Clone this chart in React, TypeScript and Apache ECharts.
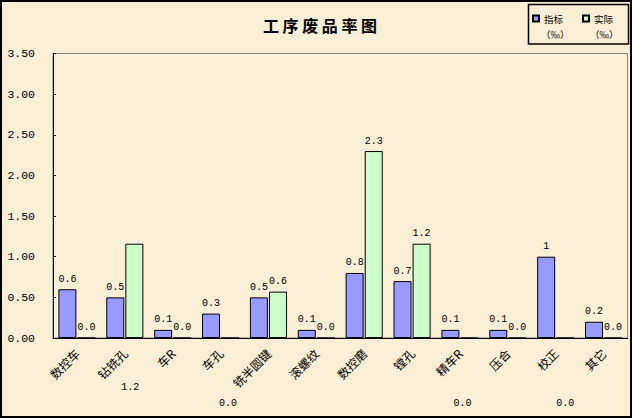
import React, { useEffect, useRef } from "react";
import * as echarts from "echarts";

const categories = ["数控车", "钻铣孔", "车R", "车孔", "铣半圆键", "滚螺纹", "数控磨", "镗孔", "精车R", "压合", "校正", "其它"];
const targetValues = [0.6, 0.5, 0.1, 0.3, 0.5, 0.1, 0.8, 0.7, 0.1, 0.1, 1, 0.2];
const actualValues = [0, 1.16, 0, 0, 0.57, 0, 2.3, 1.16, 0, 0, 0, 0];
const yTicks = { min: 0, max: 3.5, interval: 0.5 };
const seriesNames = ["指标（‰）", "实际（‰）"];

// label displacements seen in the reference (index -> [dx, dy])
const actualLabelShift: Record<number, [number, number]> = {
  1: [-4, 154],
  3: [-2, 76],
  8: [-7, 76],
  10: [0, 76],
};

const numFont = "'Liberation Mono', 'DejaVu Sans Mono', monospace";
const cjkFont = "'Noto Sans CJK SC', sans-serif";

export default function App() {
  const ref = useRef<HTMLDivElement>(null);
  useEffect(() => {
    document.body.style.margin = "0";
    if (!ref.current) return;
    const chart = echarts.init(ref.current, null, { renderer: "svg" });
    const option: any = {
      animation: false,
      backgroundColor: "#f9eed6",
      title: {
        text: "工 序 废 品 率 图",
        left: 315,
        top: 12,
        textAlign: "center",
        textStyle: { fontFamily: cjkFont, fontSize: 16, fontWeight: "bold", color: "#000" },
      },
      legend: {
        left: 532,
        top: 12.5,
        padding: 0,
        itemWidth: 6,
        itemHeight: 6,
        itemGap: 19,
        icon: "rect",
        formatter: (n: string) => n.split("（")[0],
        textStyle: { fontFamily: cjkFont, fontSize: 9.5, lineHeight: 12, color: "#000" },
        data: seriesNames,
      },
      graphic: [
        { type: "rect", shape: { x: 528.5, y: 4.5, width: 100, height: 39.5 }, style: { fill: "none", stroke: "#000", lineWidth: 1.5 }, z: 10 },
        { type: "text", x: 541, y: 33.5, style: { text: "（‰）", font: `9.5px ${cjkFont}`, fill: "#000", verticalAlign: "middle" }, z: 10 },
        { type: "text", x: 590, y: 33.5, style: { text: "（‰）", font: `9.5px ${cjkFont}`, fill: "#000", verticalAlign: "middle" }, z: 10 },
        { type: "rect", shape: { x: 1, y: 1, width: 630, height: 416 }, style: { fill: "none", stroke: "#000", lineWidth: 2 }, z: 20 },
      ],
      grid: {
        left: 53,
        top: 53.5,
        right: 4.5,
        bottom: 80,
        show: true,
        borderColor: "#808080",
        borderWidth: 1,
        backgroundColor: "transparent",
      },
      xAxis: {
        type: "category",
        data: categories,
        axisLine: { lineStyle: { color: "#000", width: 1 } },
        axisTick: { inside: true, length: 3, lineStyle: { color: "#000" } },
        axisLabel: {
          rotate: 45,
          margin: 13,
          interval: 0,
          fontFamily: cjkFont,
          fontSize: 12,
          color: "#000",
        },
      },
      yAxis: {
        type: "value",
        min: yTicks.min,
        max: yTicks.max,
        interval: yTicks.interval,
        axisLine: { show: true, lineStyle: { color: "#000", width: 1 } },
        axisTick: { show: true, inside: true, length: 3, lineStyle: { color: "#000" } },
        splitLine: { show: false },
        axisLabel: {
          margin: 18,
          fontFamily: numFont,
          fontSize: 11.5,
          color: "#000",
          formatter: (v: number) => v.toFixed(2),
        },
      },
      series: [
        {
          name: seriesNames[0],
          type: "bar",
          barWidth: 18,
          barGap: "6%",
          data: targetValues,
          itemStyle: { color: "#9999ff", borderColor: "#000", borderWidth: 1 },
          label: {
            show: true,
            position: "top",
            distance: 5,
            fontFamily: numFont,
            fontSize: 10,
            color: "#000",
            formatter: (p: any) => String(p.value),
          },
        },
        {
          name: seriesNames[1],
          type: "bar",
          barWidth: 18,
          data: actualValues.map((v, i) =>
            actualLabelShift[i] ? { value: v, label: { offset: actualLabelShift[i] } } : v
          ),
          itemStyle: { color: "#ccffcc", borderColor: "#000", borderWidth: 1 },
          label: {
            show: true,
            position: "top",
            distance: 5,
            fontFamily: numFont,
            fontSize: 10,
            color: "#000",
            formatter: (p: any) => Number(p.value).toFixed(1),
          },
        },
      ],
    };
    chart.setOption(option);
    return () => chart.dispose();
  }, []);
  return <div ref={ref} style={{ width: 632, height: 418 }} />;
}
